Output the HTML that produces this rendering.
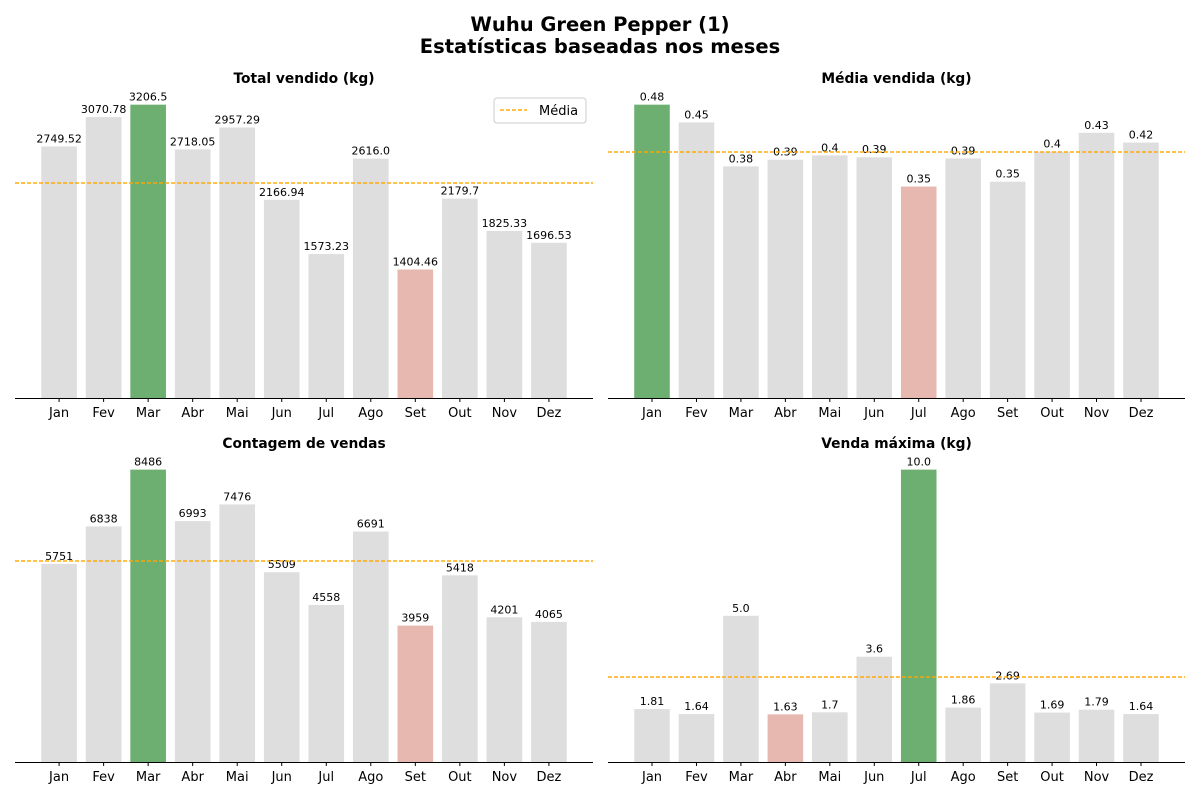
<!DOCTYPE html>
<html><head><meta charset="utf-8"><style>
body{margin:0;background:#fff;}
svg{font-family:"DejaVu Sans","Liberation Sans",sans-serif;}
</style></head><body>
<svg id="chart" width="1200" height="800" xmlns="http://www.w3.org/2000/svg">
<rect width="1200" height="800" fill="#fff"/>
<text x="600" y="31" text-anchor="middle" font-size="19.5" font-weight="bold">Wuhu Green Pepper (1)</text>
<text x="600" y="53" text-anchor="middle" font-size="19.5" font-weight="bold">Estatísticas baseadas nos meses</text>
</svg>
<script>
const months = ["Jan","Fev","Mar","Abr","Mai","Jun","Jul","Ago","Set","Out","Nov","Dez"];
const totalSold = [2749.52,3070.78,3206.5,2718.05,2957.29,2166.94,1573.23,2616.0,1404.46,2179.7,1825.33,1696.53];
const avgSold = [0.48,0.451,0.379,0.39,0.397,0.394,0.346,0.392,0.354,0.403,0.434,0.418];
const salesCount = [5751,6838,8486,6993,7476,5509,4558,6691,3959,5418,4201,4065];
const maxSale = [1.81,1.64,5.0,1.63,1.7,3.6,10.0,1.86,2.69,1.69,1.79,1.64];

const NS="http://www.w3.org/2000/svg";
const svg=document.getElementById('chart');
function mk(tag,attrs,parent){const e=document.createElementNS(NS,tag);for(const k in attrs)e.setAttribute(k,attrs[k]);(parent||svg).appendChild(e);return e;}
function fmt(v,dec){if(dec===0)return String(v);const r=Math.round(v*Math.pow(10,dec))/Math.pow(10,dec);let s=String(r);if(s.indexOf('.')<0)s+='.0';return s;}
function dashed(g,x0,x1,yy){
  const grp=mk('g',{},g);
  for(let x=x0;x<x1;x+=6){
    mk('rect',{x:x,y:yy-0.7,width:Math.min(4,x1-x),height:1.4,fill:'#ffa500'},grp);
  }
  return grp;
}

function panel(name,title,vals,x0,x1,bottom,top,dec,legend){
  const g=mk('g',{});
  
  
  const maxV=Math.max(...vals),minV=Math.min(...vals);
  const yMax=maxV*1.05;
  const y=v=>bottom-(v/yMax)*(bottom-top);
  const step=(x1-x0)/12.98;
  const xc=i=>x0+(i+0.4+0.59)*step;
  const bw=step*0.8;
  const t=mk('text',{x:(x0+x1)/2,y:top-7,'text-anchor':'middle','font-size':13.8,'font-weight':'bold'},g);
  t.textContent=title;
  
  
  vals.forEach((v,i)=>{
    const col=v===maxV?'#6daf71':(v===minV?'#e6b8af':'#dedede');
    const r=mk('rect',{x:xc(i)-bw/2,y:y(v),width:bw,height:bottom-y(v),fill:col},g);
    
    
    const l=mk('text',{x:xc(i),y:y(v)-4,'text-anchor':'middle','font-size':11},g);
    l.textContent=fmt(v,dec);
    
    
    const tk=mk('line',{x1:xc(i),x2:xc(i),y1:bottom,y2:bottom+4,stroke:'#000','stroke-width':1},g);
    
    
    const tl=mk('text',{x:xc(i),y:bottom+19,'text-anchor':'middle','font-size':13},g);
    tl.textContent=months[i];
    
    
  });
  const mean=vals.reduce((a,b)=>a+b,0)/vals.length;
  const ml=dashed(g,x0,x1,Math.round(y(mean)));
  
  
  const ax=mk('line',{x1:x0,x2:x1,y1:bottom+0.5,y2:bottom+0.5,stroke:'#000','stroke-width':1},g);
  
  
  if(legend){
    const lg=mk('g',{},g);
    
    
    mk('rect',{x:494,y:98,width:92,height:25,rx:3,fill:'#fff',stroke:'#ccc'},lg);
    dashed(lg,500,527,110);
    const lt=mk('text',{x:539,y:115,'font-size':13},lg);
    lt.textContent='Média';
    
    
  }
}
panel('panel-total-sold','Total vendido (kg)',totalSold,15,593,398,90,2,true);
panel('panel-average-sold','Média vendida (kg)',avgSold,608,1185,398,90,2,false);
panel('panel-sales-count','Contagem de vendas',salesCount,15,593,762,455,0,false);
panel('panel-max-sale','Venda máxima (kg)',maxSale,608,1185,762,455,2,false);
</script>
</body></html>
